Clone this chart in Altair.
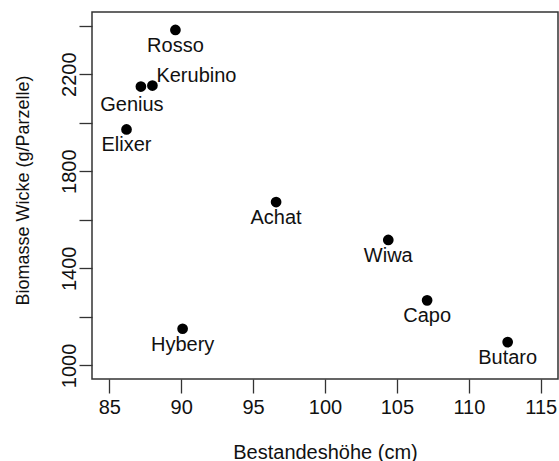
import altair as alt
import pandas as pd

sorten = ["Rosso", "Kerubino", "Genius", "Elixer", "Achat", "Hybery", "Wiwa", "Capo", "Butaro"]
hoehe = [89.6, 88.0, 87.2, 86.2, 96.6, 90.1, 104.4, 107.1, 112.7]
biomasse = [2382, 2153, 2149, 1972, 1673, 1151, 1517, 1268, 1096]

x_ticks = [85, 90, 95, 100, 105, 110, 115]
y_ticks = [1000, 1200, 1400, 1600, 1800, 2000, 2200, 2400]

df = pd.DataFrame({"Sorte": sorten, "Hoehe": hoehe, "Biomasse": biomasse})

FONT = "Liberation Sans"

x = alt.X("Hoehe:Q",
          scale=alt.Scale(domain=[83.8, 116.2], nice=False, zero=False),
          axis=alt.Axis(values=x_ticks, format="d", title="Bestandeshöhe (cm)", grid=False, domain=False,
                        tickSize=14, tickColor="#333", tickWidth=1.3,
                        labelFont=FONT, labelFontSize=20, labelColor="#111",
                        labelBaseline="alphabetic", labelPadding=20, labelFlush=False,
                        titleFont=FONT, titleFontSize=20, titleFontWeight="normal",
                        titleColor="#111", titleBaseline="alphabetic", titleY=79))
y = alt.Y("Biomasse:Q",
          scale=alt.Scale(domain=[944, 2456], nice=False, zero=False),
          axis=alt.Axis(values=y_ticks, format="d", title="Biomasse Wicke (g/Parzelle)", grid=False, domain=False,
                        tickSize=13, tickColor="#333", tickWidth=1.3,
                        labelExpr="datum.value % 400 == 0 ? '' : datum.label",
                        labelAngle=270, labelAlign="center", labelBaseline="alphabetic",
                        labelPadding=4, labelFont=FONT, labelFontSize=20, labelColor="#111",
                        labelFlush=False, labelOverlap=False,
                        titleFont=FONT, titleFontSize=18, titleFontWeight="normal",
                        titleColor="#111", titleAngle=270, titleAlign="center",
                        titleBaseline="alphabetic", titleX=-64, titleY=178))

base = alt.Chart(df)

points = base.mark_circle(size=115, color="#000", opacity=1).encode(x=x, y=y)

text_props = dict(font=FONT, fontSize=20, color="#111", baseline="alphabetic")

labels_below = base.mark_text(align="center", dy=22, **text_props).encode(
    x="Hoehe:Q", y="Biomasse:Q", text="Sorte:N"
).transform_filter("datum.Sorte != 'Kerubino' && datum.Sorte != 'Genius'")

label_kerubino = base.mark_text(align="left", dx=4, dy=-4, **text_props).encode(
    x="Hoehe:Q", y="Biomasse:Q", text="Sorte:N"
).transform_filter("datum.Sorte == 'Kerubino'")

label_genius = base.mark_text(align="center", dx=-9, dy=24, **text_props).encode(
    x="Hoehe:Q", y="Biomasse:Q", text="Sorte:N"
).transform_filter("datum.Sorte == 'Genius'")

chart = alt.layer(points, labels_below, label_kerubino, label_genius).properties(
    width=466, height=367,
    autosize=alt.AutoSizeParams(type="none"),
    padding={"left": 92, "top": 12, "right": 1, "bottom": 82},
    background="white",
).configure_view(stroke="#333", strokeWidth=1.5)

chart.save("out.html", embed_options={"renderer": "svg", "actions": False})
